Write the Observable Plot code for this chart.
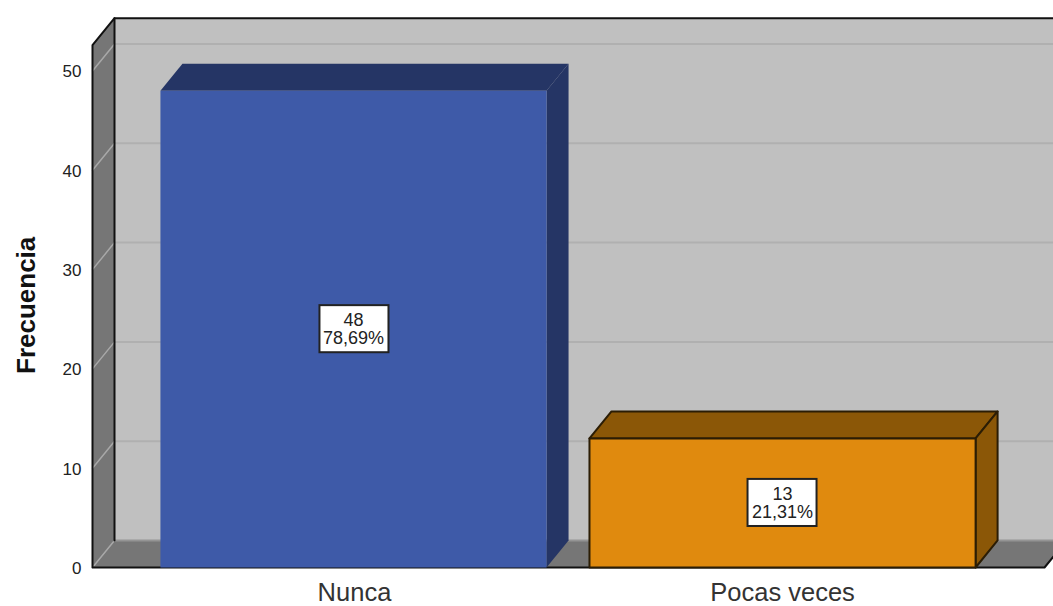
<!DOCTYPE html>
<html>
<head>
<meta charset="utf-8">
<script src="https://cdn.jsdelivr.net/npm/d3@7"></script>
<script src="https://cdn.jsdelivr.net/npm/@observablehq/plot@0.6"></script>
<style>
html,body{margin:0;padding:0;background:#fff;overflow:hidden}
svg{display:block}
</style>
</head>
<body>
<div id="chart"></div>
<script>
const categories = ["Nunca", "Pocas veces"];
const counts = [48, 13];
const percents = ["78,69%", "21,31%"];
const yTicks = [0, 10, 20, 30, 40, 50];

const frontColors = ["#3E5AA8", "#E08A0E"];
const sideColors = ["#253565", "#8B5707"];
const edgeColors = [null, "#2b1d05"];
const barCenters = [-0.0023, 1];

const barHalf = 0.451, depthX = 0.0514, depthY = 2.72;
const left = -0.612, right = 1.612, top3d = 52.6;
const labelHalfX = 0.0806, labelHalfY = 2.37;

const P = (x, y) => ({x, y});
const shift = ([x, y]) => [x + depthX, y + depthY];
const poly = (pts, fill, stroke, strokeWidth = 2) => {
  const p = pts.map(([x, y]) => P(x, y));
  return Plot.line([...p, p[0]], {x: "x", y: "y", fill, stroke: stroke || "none", strokeWidth, curve: "linear"});
};

const marks = [
  // back wall
  poly([[left + depthX, depthY], [right + depthX + 1, depthY], [right + depthX + 1, top3d + depthY], [left + depthX, top3d + depthY]], "#C0C0C0"),
  // back wall grid
  Plot.ruleY(yTicks.slice(1), {y: d => d + depthY, x1: left + depthX, x2: right + depthX + 1, stroke: "#b0b0b0", strokeWidth: 2}),
  // floor
  poly([[left, 0], [right, 0], [right + depthX, depthY], [left + depthX, depthY]], "#767676"),
  Plot.ruleY([depthY], {x1: left + depthX, x2: right + depthX + 1, stroke: "#949494", strokeWidth: 2}),
  // side wall
  poly([[left, 0], [left + depthX, depthY], [left + depthX, top3d + depthY], [left, top3d]], "#767676"),
  // side wall grid
  ...yTicks.map(t => Plot.line([P(left, t), P(left + depthX, t + depthY)], {x: "x", y: "y", stroke: "#a8a8a8", strokeWidth: 1.5})),
  // frame
  Plot.line([P(left + depthX, depthY), P(left + depthX, top3d + depthY), P(right + depthX + 1, top3d + depthY)], {x: "x", y: "y", stroke: "#111", strokeWidth: 2}),
  Plot.line([P(left + depthX, top3d + depthY), P(left, top3d), P(left, 0), P(right, 0), P(right + depthX, depthY)], {x: "x", y: "y", stroke: "#111", strokeWidth: 2}),
];

counts.forEach((v, i) => {
  const x0 = barCenters[i] - barHalf, x1 = barCenters[i] + barHalf;
  const e = edgeColors[i];
  // top face
  marks.push(poly([[x0, v], [x1, v], shift([x1, v]), shift([x0, v])], sideColors[i], e));
  // right face
  marks.push(poly([[x1, 0], shift([x1, 0]), shift([x1, v]), [x1, v]], sideColors[i], e));
  // front face
  marks.push(poly([[x0, 0], [x1, 0], [x1, v], [x0, v]], frontColors[i], e));
});

const rows = categories.map((c, i) => ({i, c, v: counts[i], p: percents[i]}));

marks.push(
  Plot.rect(rows, {
    x1: d => d.i - labelHalfX, x2: d => d.i + labelHalfX,
    y1: d => d.v / 2 - labelHalfY, y2: d => d.v / 2 + labelHalfY,
    fill: "#fff", stroke: "#222", strokeWidth: 2
  }),
  Plot.text(rows, {
    x: d => barCenters[d.i], y: d => d.v / 2,
    text: d => `${d.v}\n${d.p}`,
    lineHeight: 1, fontSize: 18, fill: "#222"
  }),
  Plot.axisY({
    ticks: yTicks, tickSize: 0, tickPadding: 11, label: null,
    fontSize: 17, color: "#222", anchor: "left", dy: 1
  }),
  Plot.axisX({
    ticks: [0, 1], tickFormat: i => categories[i], tickSize: 0, tickPadding: 15, label: null,
    fontSize: 25.5, color: "#333", anchor: "bottom"
  }),
  Plot.text(["Frecuencia"], {
    frameAnchor: "left", dx: -66, y: () => 26.4, rotate: -90, textAnchor: "middle",
    fontSize: 26, fontWeight: "bold", fill: "#111"
  })
);

const chart = Plot.plot({
  width: 1053,
  height: 606,
  marginLeft: 92,
  marginRight: 0,
  marginTop: 0,
  marginBottom: 39,
  x: {type: "linear", domain: [left, 1.633]},
  y: {type: "linear", domain: [0, 57.1]},
  style: {fontFamily: "'Liberation Sans', Arial, sans-serif", background: "#fff", overflow: "hidden"},
  marks
});
document.getElementById("chart").append(chart);
</script>
</body>
</html>
